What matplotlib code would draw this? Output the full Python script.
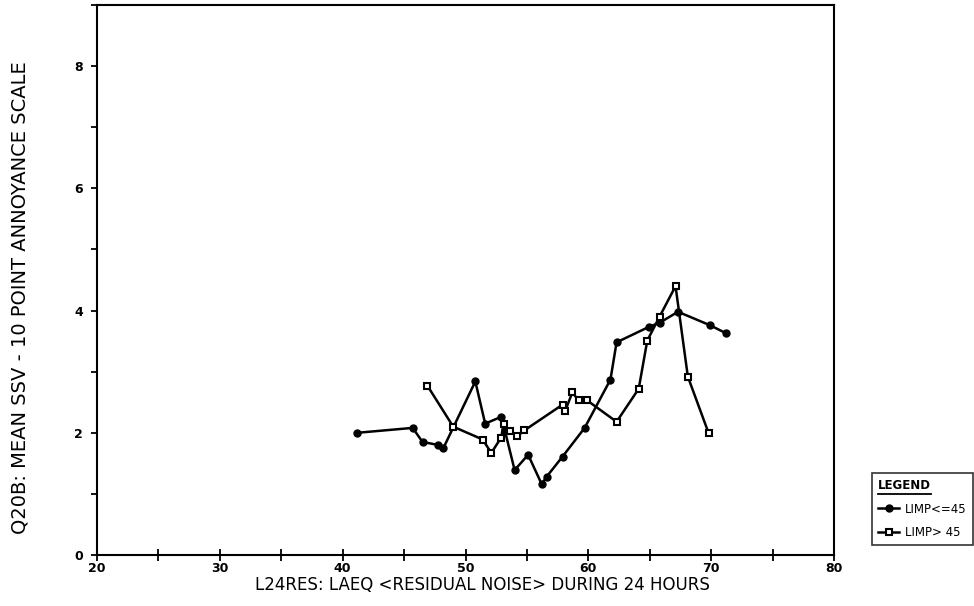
import matplotlib
matplotlib.use("Agg")
import matplotlib.pyplot as plt
from matplotlib.lines import Line2D
from matplotlib.ticker import MultipleLocator

# Series: LIMP<=45 (circle markers)
limp_le45_x = [41.2, 45.7, 46.5, 47.8, 48.2, 50.8, 51.6, 52.9, 53.2, 54.0, 55.1,
               56.2, 56.6, 57.9, 59.7, 61.8, 62.3, 64.9, 65.8, 67.3, 69.9, 71.2]
limp_le45_y = [2.00, 2.08, 1.85, 1.80, 1.75, 2.84, 2.15, 2.26, 2.04, 1.39, 1.64,
               1.16, 1.28, 1.61, 2.08, 2.87, 3.48, 3.73, 3.80, 3.98, 3.76, 3.63]

# Series: LIMP> 45 (square markers)
limp_gt45_x = [46.9, 49.0, 51.4, 52.1, 52.9, 53.1, 53.6, 54.2, 54.8, 57.9, 58.1,
               58.7, 59.2, 59.9, 62.3, 64.1, 64.8, 65.8, 67.1, 68.1, 69.8]
limp_gt45_y = [2.77, 2.10, 1.89, 1.67, 1.92, 2.14, 2.03, 1.94, 2.04, 2.46, 2.35,
               2.66, 2.53, 2.53, 2.18, 2.72, 3.51, 3.90, 4.40, 2.92, 1.99]

labels = ["LIMP<=45", "LIMP> 45"]
x_ticks = [20, 30, 40, 50, 60, 70, 80]
y_ticks = [0, 2, 4, 6, 8]

W, H = 974, 606
fig = plt.figure(figsize=(W / 100, H / 100), dpi=100)
ax = fig.add_axes([97 / W, 1 - 555 / H, (834 - 97) / W, (555 - 5) / H])

l1, = ax.plot(limp_le45_x, limp_le45_y, color="black", lw=1.8, marker="o",
              ms=5, mfc="black", mec="black", label=labels[0])
l2, = ax.plot(limp_gt45_x, limp_gt45_y, color="black", lw=1.8, marker="s",
              ms=4.5, mfc="white", mec="black", mew=1.5, label=labels[1])

ax.set_xlim(20, 80)
ax.set_ylim(0, 9)
ax.set_xticks(x_ticks)
ax.xaxis.set_minor_locator(MultipleLocator(5))
ax.set_yticks(y_ticks)
ax.yaxis.set_minor_locator(MultipleLocator(1))
ax.tick_params(axis="x", which="both", direction="inout", length=8, width=1.3,
               labelsize=9, pad=1)
ax.tick_params(axis="y", which="both", direction="out", length=4, width=1.3,
               labelsize=9, pad=6)
for lab in ax.get_xticklabels() + ax.get_yticklabels():
    lab.set_fontweight("bold")
for sp in ax.spines.values():
    sp.set_linewidth(1.5)

ax.set_xlabel("L24RES: LAEQ <RESIDUAL NOISE> DURING 24 HOURS", fontsize=12)
ax.set_ylabel("Q20B: MEAN SSV - 10 POINT ANNOYANCE SCALE", fontsize=14)
ax.xaxis.set_label_coords((482 - 97) / 737, -(585 - 555) / 550)
ax.xaxis.label.set_verticalalignment("center")
ax.yaxis.set_label_coords((20 - 97) / 737, (555 - 298) / 550)
ax.yaxis.label.set_verticalalignment("center")

leg = fig.legend(handles=[l1, l2], labels=labels, loc="upper left",
                 bbox_to_anchor=(872 / W, 1 - 473 / H), title="LEGEND",
                 frameon=True, fancybox=False, edgecolor="black", fontsize=8.5,
                 title_fontsize=8.5, alignment="left", handlelength=1.8,
                 handletextpad=0.5, borderpad=0.5, labelspacing=0.9,
                 borderaxespad=0)
leg.get_frame().set_linewidth(1.2)
leg.get_title().set_fontweight("bold")

fig.canvas.draw()
bb = leg.get_title().get_window_extent()
yl = round(bb.y0 - 2) + 0.5
fig.add_artist(Line2D([bb.x0 / W, bb.x1 / W], [yl / H] * 2,
                      color="black", lw=1.3, zorder=10,
                      transform=fig.transFigure))

fig.savefig("out.png", dpi=100)
